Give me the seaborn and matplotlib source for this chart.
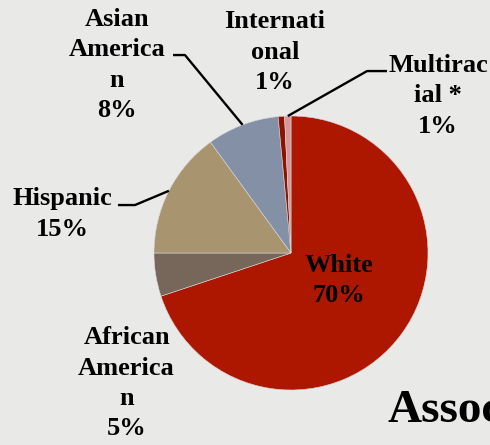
import numpy as np
import matplotlib
matplotlib.use("Agg")
import matplotlib.pyplot as plt
import seaborn as sns

# data
GROUPS = ["White", "African\nAmerica\nn", "Hispanic", "Asian\nAmerica\nn", "Internati\nonal", "Multirac\nial *"]
SHARES = [69.9, 5.1, 15.0, 8.5, 0.75, 0.75]
PCT_LABELS = ["70%", "5%", "15%", "8%", "1%", "1%"]
COLORS = ["#ad1700", "#77675a", "#a8946f", "#8490a6", "#8c1300", "#d4999b"]

BG = "#e9e9e8"
FONT = ["Liberation Serif", "DejaVu Serif"]

sns.set_theme(style="white")
plt.rcParams["font.family"] = FONT

fig = plt.figure(figsize=(4.9, 4.45), dpi=100)
fig.patch.set_facecolor(BG)
ax = fig.add_axes([0, 0, 1, 1])
ax.set_facecolor(BG)

wedges, _ = ax.pie(SHARES, colors=COLORS, startangle=90, counterclock=False,
                   radius=1.0, wedgeprops=dict(linewidth=0.4, edgecolor="#d8d8d8"))

# pie centre sits at (291, 253) px, radius 137 px
ax.set_xlim(-291 / 137, (490 - 291) / 137)
ax.set_ylim(-(445 - 253) / 137, 253 / 137)
ax.set_aspect("equal")
ax.axis("off")

# label centres (data coords)
label_pos = [(0.35, -0.20), (-1.20, -0.95), (-1.67, 0.285), (-1.27, 1.372),
             (-0.117, 1.467), (1.073, 1.146)]
for name, pct, (x, y) in zip(GROUPS, PCT_LABELS, label_pos):
    ax.text(x, y, name + "\n" + pct, ha="center", va="center", fontsize=19,
            fontweight="bold", color="black", linespacing=1.4, clip_on=False)

def mid_point(w, r=1.0):
    ang = np.deg2rad((w.theta1 + w.theta2) / 2)
    return r * np.cos(ang), r * np.sin(ang)

# leader lines: start at text, short horizontal, then to the wedge
leaders = {3: [(-0.861, 1.445), (-0.774, 1.445)],
           2: [(-1.263, 0.350), (-1.139, 0.350)],
           5: [(0.701, 1.328), (0.555, 1.328)]}
for i, pts in leaders.items():
    px, py = mid_point(wedges[i])
    xs = [p[0] for p in pts] + [px]
    ys = [p[1] for p in pts] + [py]
    ax.plot(xs, ys, color="black", lw=1.7, solid_capstyle="butt")

ax.text(0.701, -1.234, "Assoc", ha="left", va="baseline", fontsize=34,
        fontweight="bold", color="black", clip_on=False)

fig.savefig("out.png", dpi=100, facecolor=BG)
